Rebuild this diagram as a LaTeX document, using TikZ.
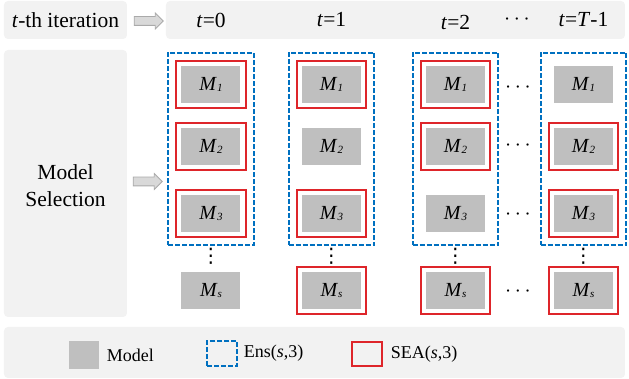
\documentclass[tikz,border=0pt]{standalone}
\usepackage{fontspec}
\setmainfont{Liberation Serif}
\newfontfamily\symfont{DejaVu Sans}
\usetikzlibrary{fit, positioning, shapes.arrows}
\definecolor{panelgray}{RGB}{242,242,242}
\definecolor{modelgray}{RGB}{191,191,191}
\definecolor{arrowgray}{RGB}{217,217,217}
\definecolor{arrowedge}{RGB}{170,170,170}
\definecolor{ensblue}{RGB}{0,112,192}
\definecolor{seared}{RGB}{222,37,42}

% model name with a small italic index
\newcommand{\mname}[1]{\textit{M}\raisebox{-0.5pt}{\fontsize{5.5}{6}\selectfont\itshape #1}}

\begin{document}
\begin{tikzpicture}[x=0.5pt, y=-0.5pt,
  panel/.style={fill=panelgray, rounded corners=2pt, inner sep=0pt},
  lbl/.style={inner sep=0pt, font=\fontsize{10.75}{13.5}\selectfont},
  keylbl/.style={inner sep=0pt, font=\fontsize{9}{11}\selectfont},
  model/.style={fill=modelgray, minimum width=29.5pt, minimum height=18.5pt, inner sep=0pt,
                font=\fontsize{10}{12}\selectfont},
  seabox/.style={draw=seared, line width=1pt, inner sep=2.5pt},
  ensbox/.style={draw=ensblue, line width=1pt, dash pattern=on 2.5pt off 1pt, inner sep=6.5pt},
  blockarrow/.style={single arrow, fill=arrowgray, draw=arrowedge, line width=0.4pt, inner sep=2pt,
                     minimum height=14.5pt, minimum width=7.5pt, single arrow head extend=1.75pt}]
\useasboundingbox (0,0) rectangle (629,379);

% row headers
\node[panel, lbl, minimum width=61.5pt, minimum height=19pt] (iter) at (65.5,20) {\textit{t}-th iteration};
\node[panel, minimum width=61.5pt, minimum height=133.5pt] (selpanel) at (65.5,183.5) {};
\node[lbl, align=center] (sel) at (65.5,186) {Model\\Selection};
\node[panel, minimum width=229.5pt, minimum height=19pt] (tbar) at (395.5,20) {};
\node[blockarrow] (arrtop) at (146.5,21) {};
\node[blockarrow] (arrsel) at (145.5,181.5) {};

% iteration labels
\node[lbl] (t0) at (211,20) {\textit{t}=0};
\node[lbl] (t1) at (331.5,20) {\textit{t}=1};
\node[lbl] (t2) at (455.5,22) {\textit{t}=2};
\node[lbl] (tdots) at (517,20) {$\cdots$};
\node[lbl] (tlast) at (583.5,20) {\textit{t}=\textit{T}-1};

% candidate models per iteration
\foreach \c/\x in {0/211, 1/331.5, 2/455.5, 3/583.5} {
  \node[model] (m\c-1) at (\x,84.5) {\mname{1}};
  \node[model] (m\c-2) at (\x,146.5) {\mname{2}};
  \node[model] (m\c-3) at (\x,213.5) {\mname{3}};
  \node[model] (m\c-s) at (\x,290.5) {\mname{s}};
  \node[ensbox, fit=(m\c-1)(m\c-3)] (ens\c) {};
  \node[inner sep=0pt, font=\fontsize{10}{10}\symfont] (vd\c) at (\x,256) {⋮};
}

% models picked by SEA
\foreach \m in {m0-1, m0-2, m0-3, m1-1, m1-3, m1-s, m2-1, m2-2, m2-s, m3-2, m3-3, m3-s}
  \node[seabox, fit=(\m)] (sea-\m) {};

% skipped iterations
\foreach \r/\y in {1/88, 2/146, 3/215, s/292}
  \node[lbl] (hd\r) at (518,\y) {$\cdots$};

% legend
\node[panel, minimum width=310.5pt, minimum height=25.5pt] (legend) at (314.5,352.5) {};
\node[fill=modelgray, minimum width=15pt, minimum height=14pt, inner sep=0pt] (keymodel) at (84,355) {};
\node[keylbl, right=3.5pt of keymodel] (keymodeltxt) {Model};
\node[draw=ensblue, line width=1pt, dash pattern=on 2.5pt off 1pt, minimum width=15pt, minimum height=12.5pt, inner sep=0pt] (keyens) at (222.5,353.5) {};
\node[keylbl, right=2.5pt of keyens] (keyenstxt) {Ens(\textit{s},3)};
\node[draw=seared, line width=1pt, minimum width=15pt, minimum height=12pt, inner sep=0pt] (keysea) at (367.5,354) {};
\node[keylbl, right=3.5pt of keysea] (keyseatxt) {SEA(\textit{s},3)};
\end{tikzpicture}
\end{document}
